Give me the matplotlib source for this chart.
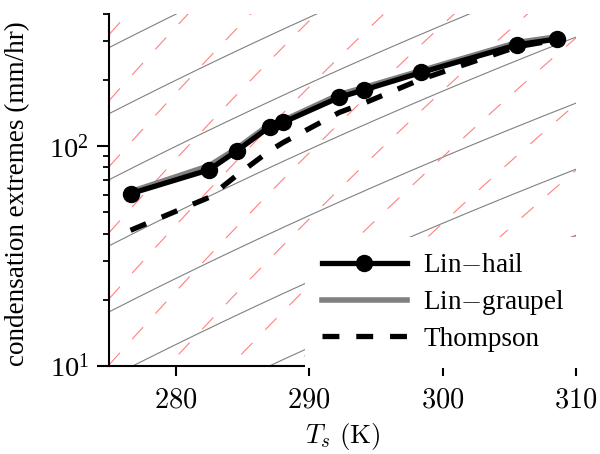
import numpy as np
import matplotlib
matplotlib.use('Agg')
import matplotlib.pyplot as plt
from matplotlib.ticker import FixedLocator, FuncFormatter, LogLocator, NullFormatter

plt.rcParams['font.family'] = ['Liberation Serif', 'DejaVu Serif']
plt.rcParams['mathtext.fontset'] = 'cm'

# ---- data ----
Ts = [276.6, 282.5, 284.6, 287.05, 288.05, 292.25, 294.1, 298.4, 305.6, 308.55]
lin_hail = [60.8, 78.1, 95.6, 122.9, 128.5, 167.0, 180.5, 216.8, 290.0, 307.6]
lin_graupel = [62.0, 81.5, 98.0, 126.0, 131.0, 172.0, 185.0, 221.0, 297.0, 315.0]
thompson = [41.4, 58.5, 74.0, 95.5, 104.0, 142.5, 157.0, 202.0, 284.0, 305.0]

# reference-line values at T = 275 K
gray_ref_275 = [2.2, 4.4, 8.8, 17.6, 35.2, 70.4, 140.8, 281.6]          # CC scaling
red_ref_275 = [0.079, 0.158, 0.316, 0.63, 1.26, 2.52, 5.05, 10.1, 20.2, 40.4, 80.8, 161.6, 323.2]
red_exponent = 2.2

xticks = [280, 290, 300, 310]

def es(T):
    return 611.2 * np.exp(17.67 * (T - 273.15) / (T - 29.65))

fig = plt.figure(figsize=(6.0, 4.54), dpi=100)
ax = fig.add_axes([0.182, 0.1945, 0.778, 0.7745])

Tgrid = np.linspace(275, 310, 500)
ratio = es(Tgrid) / es(275.0)
for v in gray_ref_275:
    ax.plot(Tgrid, v * ratio, color='#808080', lw=0.8, zorder=1)
for v in red_ref_275:
    ax.plot(Tgrid, v * ratio ** red_exponent, color='#ff8080', lw=0.8,
            linestyle=(0, (14.5, 16.5)), zorder=1)

ax.plot(Ts, lin_graupel, color='#808080', lw=4.0, zorder=3, label='Lin$-$graupel')
ax.plot(Ts, thompson, color='black', lw=3.8, linestyle=(0, (3.2, 3.2)), zorder=4,
        label='Thompson')
ax.plot(Ts, lin_hail, color='black', lw=3.8, marker='o', markersize=11.5, zorder=5,
        label='Lin$-$hail')

ax.set_yscale('log')
ax.set_xlim(275, 310)
ax.set_ylim(10, 400)

ax.xaxis.set_major_locator(FixedLocator(xticks))
ax.xaxis.set_major_formatter(FuncFormatter(lambda x, p: f'${x:g}$'))
ax.yaxis.set_major_locator(LogLocator(base=10, numticks=10))
ax.yaxis.set_minor_locator(LogLocator(base=10, subs=np.arange(2, 10), numticks=10))
ax.yaxis.set_minor_formatter(NullFormatter())

for s in ['top', 'right']:
    ax.spines[s].set_visible(False)
for s in ['left', 'bottom']:
    ax.spines[s].set_linewidth(1.5)

ax.tick_params(axis='x', which='major', direction='out', length=7.5, width=1.5,
               labelsize=20.5, pad=9)
ax.tick_params(axis='y', which='major', direction='out', length=8.6, width=1.5,
               labelsize=20.5, pad=6)
ax.tick_params(axis='y', which='minor', direction='out', length=4.5, width=1.3)
ax.tick_params(axis='x', which='minor', bottom=False)

ax.set_xlabel(r'$T_s\ (\mathrm{K})$', fontsize=19.5, labelpad=5)
ax.set_ylabel('condensation extremes (mm/hr)', fontsize=19.5, labelpad=10)
ax.yaxis.set_label_coords(-0.17, 0.49)

h, l = ax.get_legend_handles_labels()
order = [2, 0, 1]
leg = ax.legend([h[i] for i in order], [l[i] for i in order], loc='upper left',
                bbox_to_anchor=(0.42, 0.366), borderaxespad=0, fontsize=19.5,
                frameon=True, edgecolor='none', facecolor='white', framealpha=1,
                fancybox=False, handlelength=3.15, handletextpad=0.6,
                labelspacing=0.36, borderpad=0.6)
leg.set_zorder(6)

fig.savefig('out.png', dpi=100)
